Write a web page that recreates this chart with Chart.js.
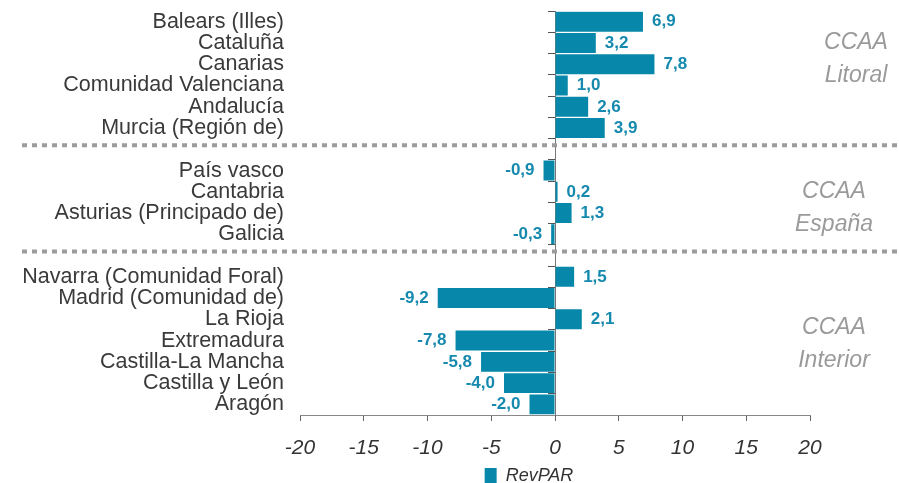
<!DOCTYPE html>
<html>
<head>
<meta charset="utf-8">
<script src="https://cdn.jsdelivr.net/npm/chart.js@4.4.0/dist/chart.umd.min.js"></script>
<style>
  html, body { margin: 0; padding: 0; background: #fff; }
  #wrap { width: 899px; height: 483px; }
</style>
</head>
<body>
<div id="wrap"><canvas id="revparChart"></canvas></div>
<script>
// rows, top to bottom; empty strings are the gaps between the groups
const regions = [
    'Balears (Illes)', 'Cataluña', 'Canarias', 'Comunidad Valenciana', 'Andalucía', 'Murcia (Región de)', '',
    'País vasco', 'Cantabria', 'Asturias (Principado de)', 'Galicia', '',
    'Navarra (Comunidad Foral)', 'Madrid (Comunidad de)', 'La Rioja', 'Extremadura', 'Castilla-La Mancha', 'Castilla y León', 'Aragón'
];
const revpar = [6.9, 3.2, 7.8, 1.0, 2.6, 3.9, null, -0.9, 0.2, 1.3, -0.3, null, 1.5, -9.2, 2.1, -7.8, -5.8, -4.0, -2.0];
const xTicks = [-20, -15, -10, -5, 0, 5, 10, 15, 20];
const separatorRows = [6, 11];
const groupTitles = [['CCAA', 'Litoral'], ['CCAA', 'España'], ['CCAA', 'Interior']];
const groupAnchorRows = [1, 8, 14.4];

const FONT = '"Liberation Sans", Arial, sans-serif';
Chart.defaults.font.family = FONT;

const fmt = (v) => v.toFixed(1).replace('.', ',');

const extras = {
    id: 'extras',
    afterLayout(chart) {
        // legend sits right of the canvas centre in the original
        const lg = chart.legend;
        const shift = 529 - (lg.left + lg.right) / 2;
        lg.left += shift;
        lg.right += shift;
    },
    afterDatasetsDraw(chart) {
        const { ctx, chartArea, scales: { y } } = chart;
        const meta = chart.getDatasetMeta(0);
        ctx.save();

        // value labels next to the bars
        ctx.font = 'bold 17px ' + FONT;
        ctx.fillStyle = '#1589ae';
        ctx.textBaseline = 'middle';
        meta.data.forEach((bar, i) => {
            const v = revpar[i];
            if (v === null) return;
            if (v >= 0) {
                ctx.textAlign = 'left';
                ctx.fillText(fmt(v), bar.x + 9, bar.y);
            } else {
                ctx.textAlign = 'right';
                ctx.fillText(fmt(v), bar.x - 9, bar.y);
            }
        });

        // dotted separators between groups
        ctx.strokeStyle = '#9c9c9c';
        ctx.lineWidth = 4;
        ctx.setLineDash([5, 5]);
        separatorRows.forEach(r => {
            const py = y.getPixelForValue(r) - 4;
            ctx.beginPath();
            ctx.moveTo(22, py);
            ctx.lineTo(chart.width, py);
            ctx.stroke();
        });
        ctx.setLineDash([]);

        // group names on the right
        ctx.font = 'italic 23px ' + FONT;
        ctx.fillStyle = '#9a9a9a';
        ctx.textAlign = 'center';
        groupTitles.forEach((lines, g) => {
            const py = y.getPixelForValue(groupAnchorRows[g]);
            const px = chartArea.right + (g === 0 ? 46 : 24);
            lines.forEach((t, k) => ctx.fillText(t, px, py + k * 33));
        });
        ctx.restore();
    }
};

new Chart(document.getElementById('revparChart'), {
    type: 'bar',
    data: {
        labels: regions,
        datasets: [{
            label: 'RevPAR',
            data: revpar,
            backgroundColor: '#0787aa',
            borderWidth: 0,
            barPercentage: 0.94,
            categoryPercentage: 1
        }]
    },
    options: {
        indexAxis: 'y',
        responsive: true,
        maintainAspectRatio: false,
        animation: false,
        devicePixelRatio: 1,
        layout: { padding: { left: 0, right: 89, top: 0, bottom: -12 } },
        scales: {
            x: {
                min: -20,
                max: 20,
                afterBuildTicks: (s) => { s.ticks = xTicks.map(v => ({ value: v })); },
                ticks: {
                    callback: (v) => String(v),
                    color: '#333',
                    padding: 15,
                    font: { size: 21, style: 'italic' }
                },
                grid: { drawOnChartArea: false, drawTicks: true, tickLength: 6, color: '#666' },
                border: { display: true, color: '#888' },
                afterFit: (s) => { s.height = 52; }
            },
            y: {
                offset: true,
                grid: { display: false, drawTicks: true, tickLength: 16 },
                border: { display: false },
                ticks: { color: '#3a3a3a', padding: 0, autoSkip: false, font: { size: 21.5, lineHeight: 1.04 } },
                afterFit: (s) => { s.width = 300; }
            },
            y2: {
                type: 'category',
                axis: 'y',
                labels: regions,
                position: { x: 0 },
                offset: true,
                grid: { offset: true, drawOnChartArea: false, tickLength: 7, color: '#555' },
                border: { display: true, color: '#777' },
                ticks: { display: false }
            }
        },
        plugins: {
            legend: {
                position: 'bottom',
                labels: {
                    boxWidth: 12,
                    boxHeight: 16,
                    padding: 0,
                    color: '#333',
                    font: { size: 18, style: 'italic' }
                }
            },
            tooltip: { enabled: false }
        }
    },
    plugins: [extras]
});
</script>
</body>
</html>
